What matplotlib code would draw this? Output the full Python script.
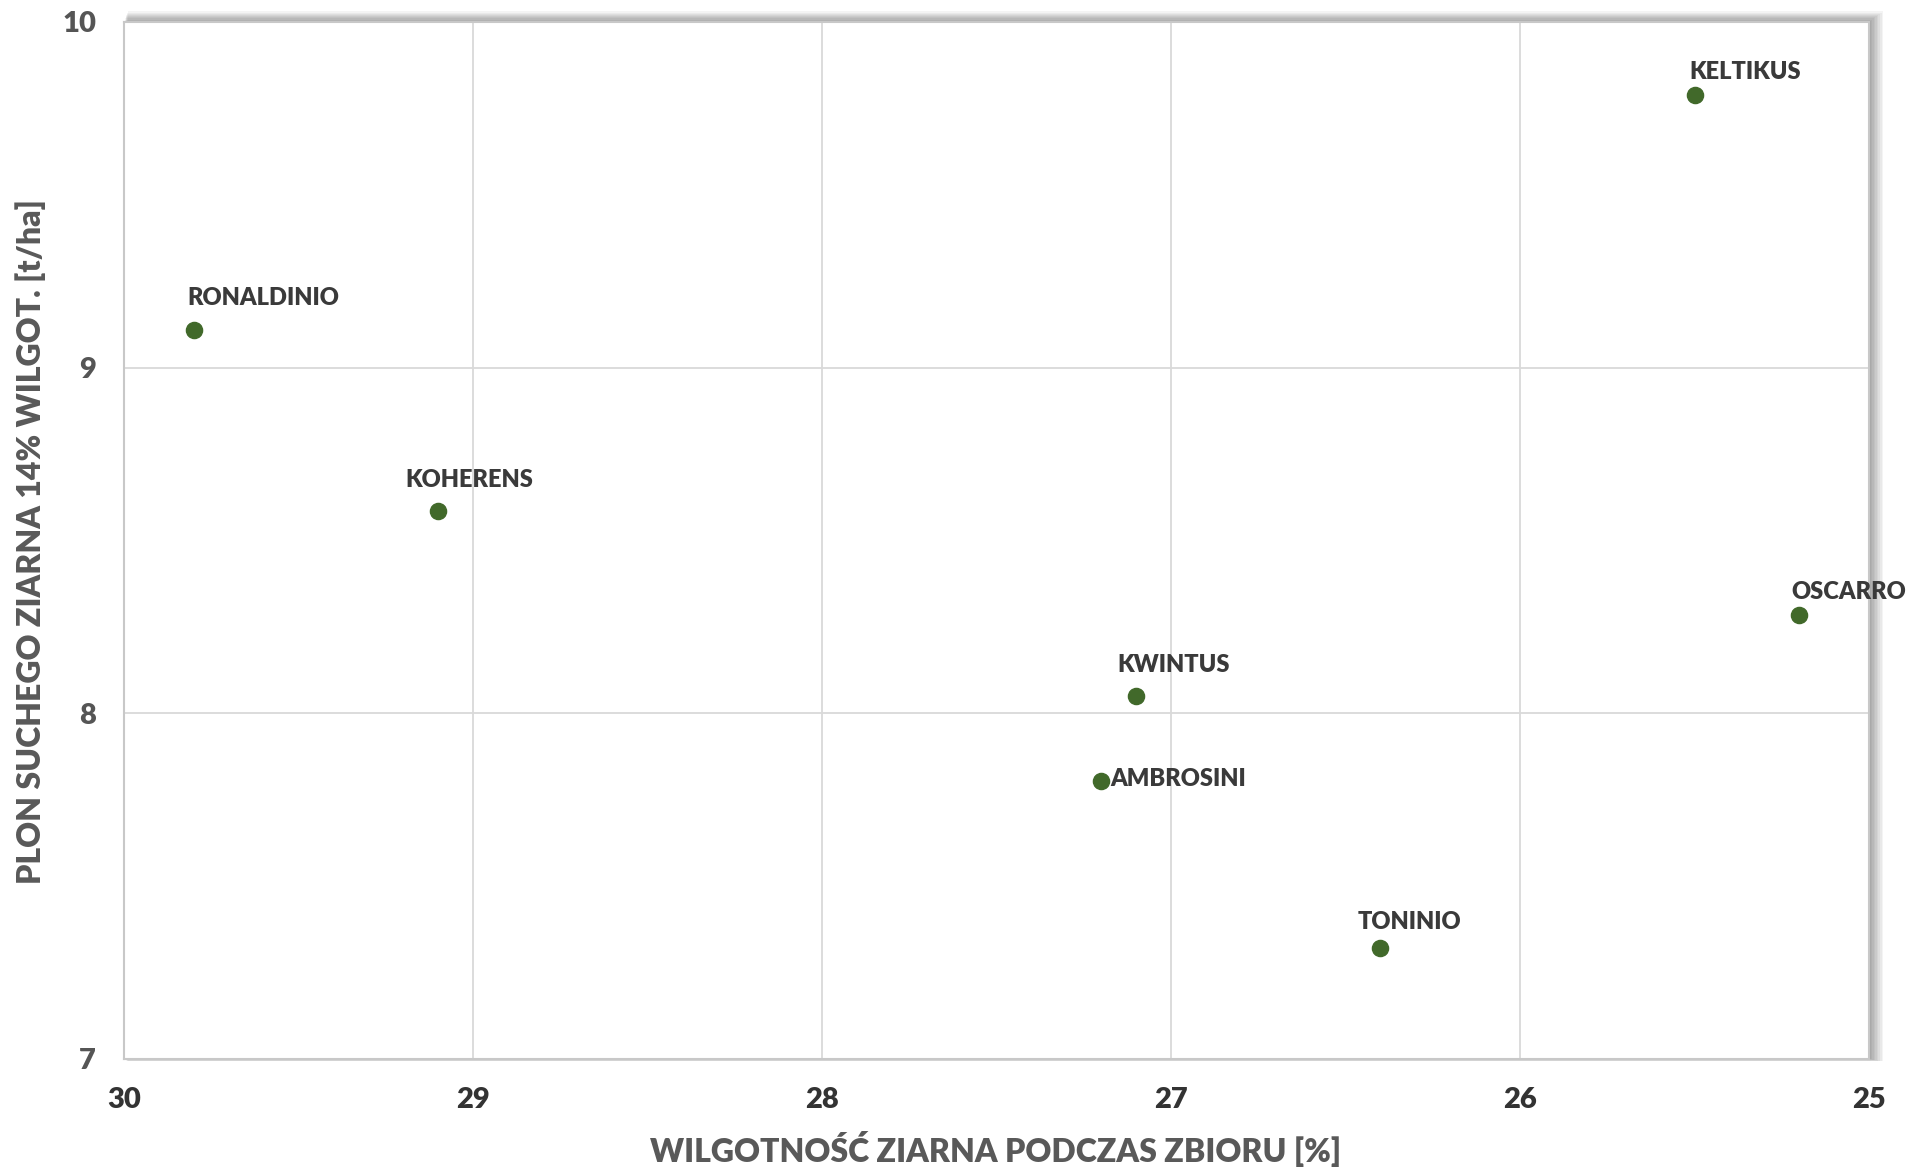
import matplotlib.pyplot as plt
from matplotlib.patches import Rectangle

names = ['RONALDINIO', 'KOHERENS', 'KWINTUS', 'AMBROSINI', 'TONINIO', 'KELTIKUS', 'OSCARRO']
moisture = [29.80, 29.10, 27.10, 27.20, 26.40, 25.50, 25.20]
yield_t = [9.11, 8.585, 8.05, 7.805, 7.32, 9.79, 8.285]

# label offsets in pixels (dx, dy) from the point, as placed in the original
label_offsets = [(-6, 25), (-33, 24), (-19, 24), (9, 2), (-23, 19), (-5, 16), (-8, 16)]

plt.rcParams['font.family'] = ['Lato', 'DejaVu Sans']
plt.rcParams['font.weight'] = 'heavy'

fig = plt.figure(figsize=(19.08, 11.70), dpi=100)
ax = fig.add_axes([0.065, 0.0949, 0.9146, 0.8863])

# soft shadow behind plot area (top / right)
for i in range(9):
    off = (i + 1) * 1.3
    fig.patches.append(Rectangle((0.065 + off / 1908 * 0.3, 0.0949 - off / 1170 * 0.2),
                                 0.9146 + off / 1908 * 0.9, 0.8863 + off / 1170 * 1.1,
                                 transform=fig.transFigure, facecolor='black',
                                 alpha=0.045, edgecolor='none', zorder=-5))

ax.set_facecolor('white')
ax.set_zorder(1)
ax.scatter(moisture, yield_t, s=135, color='#41692a', zorder=3)

for n, x, y, (dx, dy) in zip(names, moisture, yield_t, label_offsets):
    ax.annotate(n, (x, y), xytext=(dx, dy), textcoords='offset pixels',
                ha='left', va='baseline' if dy > 5 else 'center',
                fontsize=17, color='#3a3a3a', zorder=4)

ax.set_xlim(30, 25)
ax.set_ylim(7, 10)
ax.set_xticks([30, 29, 28, 27, 26, 25])
ax.set_yticks([7, 8, 9, 10])
ax.grid(True, color='#d9d9d9', linewidth=1.3)
ax.set_axisbelow(True)
ax.tick_params(length=0, pad=20, labelsize=21)
ax.tick_params(axis='x', labelcolor='#333333')
ax.tick_params(axis='y', labelcolor='#555555')
for s in ax.spines.values():
    s.set_color('#c8c8c8')
    s.set_linewidth(1.5)

fig.text(0.5217, 0.0177, 'WILGOTNOŚĆ ZIARNA PODCZAS ZBIORU [%]', ha='center', va='center',
         fontsize=23, color='#595959')
fig.text(0.016, 0.537, 'PLON SUCHEGO ZIARNA 14% WILGOT. [t/ha]', ha='center', va='center',
         rotation=90, fontsize=23, color='#595959')

fig.savefig('out.png', dpi=100, facecolor='white')
